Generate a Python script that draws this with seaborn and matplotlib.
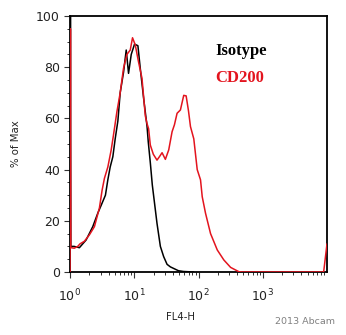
import numpy as np
import pandas as pd
import matplotlib
matplotlib.use("Agg")
import matplotlib.pyplot as plt
import matplotlib.ticker as mticker
import seaborn as sns

# ---- data (FL4-H value, % of Max) ----
iso_x = [1.00, 1.015, 1.03, 1.16, 1.40, 1.78, 2.26, 2.71, 3.05, 3.56, 3.88, 4.22, 4.64,
         5.05, 5.56, 6.04, 6.81, 7.50, 8.15, 8.98, 10.1, 11.4, 12.4, 14.0, 15.8,
         16.5, 17.8, 19.1, 22.6, 25.5, 28.7, 32.4, 36.5, 48.7, 58.3, 83.4]
iso_y = [0, 100, 10, 10, 9.5, 12.5, 17.7, 23, 26, 30, 36, 41, 45,
         52, 59, 70, 78, 86.7, 77.6, 85, 89, 88.4, 79.6, 67.8, 57,
         51, 42.6, 34, 19, 10, 6, 3, 2, 0.5, 0.2, 0]

cd_x = [1.00, 1.015, 1.03, 1.167, 1.319, 1.433, 1.672, 2.003, 2.398, 2.868, 3.162, 3.435,
        3.88, 4.37, 4.75, 5.37, 6.04, 6.81, 7.69, 8.66, 9.40, 10.37, 11.67,
        13.19, 14.86, 15.79, 16.72, 17.78, 19.8, 22.6, 24.6, 27.1, 30.5, 34.4,
        38.8, 42.2, 46.4, 52.3, 58.9, 64.2, 69.8, 75.0, 84.5, 95.5, 107.5,
        114.3, 128.5, 154, 196, 248, 316, 426, 487, 8870, 10000]
cd_y = [0, 95, 9.5, 9.3, 10, 11, 12, 14.5, 17.7, 25, 32, 36.6,
        41, 47.6, 53.5, 62.6, 70, 79.6, 85, 86.7, 91.5, 88.7, 82,
        75.7, 61, 58, 56, 49.6, 46, 43.7, 45, 46.6, 44, 47.7,
        54.8, 57.5, 62, 63.3, 69, 68.8, 63, 56.8, 52, 40, 36,
        29.4, 23, 15, 8.6, 4.7, 1.8, 0.1, 0, 0, 11]

series_names = ["Isotype", "CD200"]
series_colors = ["#000000", "#e3141e"]
x_ticks = [1, 10, 100, 1000]
y_ticks = [0, 20, 40, 60, 80, 100]

df = pd.concat([
    pd.DataFrame({"FL4-H": iso_x, "pct": iso_y, "series": "Isotype"}),
    pd.DataFrame({"FL4-H": cd_x, "pct": cd_y, "series": "CD200"}),
], ignore_index=True)

sns.set_theme(style="ticks")
plt.rcParams["font.family"] = ["DejaVu Sans"]

fig = plt.figure(figsize=(3.46, 3.35), dpi=100)
ax = fig.add_axes([70 / 346, 63 / 335, 257 / 346, 256 / 335])

for name, col in zip(series_names, series_colors):
    sub = df[df["series"] == name]
    sns.lineplot(data=sub, x="FL4-H", y="pct", ax=ax, color=col, lw=1.1,
                 estimator=None, sort=False, legend=False, zorder=3)

ax.set_xscale("log")
ax.set_xlim(1, 10000)
ax.set_ylim(0, 100)
ax.set_xticks(x_ticks)
ax.xaxis.set_major_formatter(mticker.LogFormatterMathtext())
ax.xaxis.set_minor_locator(mticker.LogLocator(base=10, subs=np.arange(2, 10)))
ax.xaxis.set_minor_formatter(mticker.NullFormatter())
ax.set_yticks(y_ticks)
ax.yaxis.set_minor_locator(mticker.MultipleLocator(5))

ax.tick_params(axis="both", which="major", direction="out", length=4.3, width=0.8,
               color="#333333", labelsize=9, labelcolor="#222222")
ax.tick_params(axis="both", which="minor", direction="out", length=2.3, width=0.7,
               color="#333333")
ax.tick_params(axis="x", which="major", pad=7)
ax.tick_params(axis="y", which="major", pad=3)

for s in ax.spines.values():
    s.set_visible(True)
    s.set_linewidth(1.3)
    s.set_color("black")

ax.set_xlabel("FL4-H", fontsize=7.3, color="#222222")
ax.set_ylabel("% of Max", fontsize=7.3, color="#222222")
ax.yaxis.set_label_coords(-0.19, 0.5)
ax.xaxis.set_label_coords(0.43, -0.155)

ax.text(0.564, 0.848, "Isotype", transform=ax.transAxes, ha="left", va="baseline",
        fontsize=12, fontweight="bold", family="Liberation Serif", color="black")
ax.text(0.564, 0.743, "CD200", transform=ax.transAxes, ha="left", va="baseline",
        fontsize=12, fontweight="bold", family="Liberation Serif", color="#e3141e")

fig.text(335 / 346, 1 - 322 / 335, "2013 Abcam", ha="right", va="center",
         fontsize=6.8, color="#808080")

fig.savefig("out.png", dpi=100)
